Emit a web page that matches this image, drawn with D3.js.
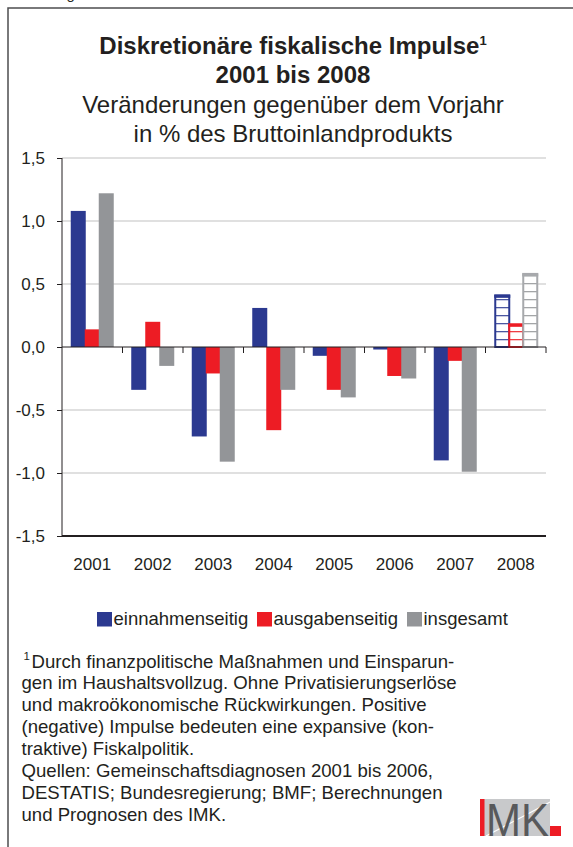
<!DOCTYPE html>
<html>
<head>
<meta charset="utf-8">
<script src="https://cdn.jsdelivr.net/npm/d3@7"></script>
<style>
  html, body { margin: 0; padding: 0; background: #fff; }
  svg { display: block; font-family: "Liberation Sans", Arial, sans-serif; }
</style>
</head>
<body>
<svg id="chart" width="573" height="847"></svg>
<script>
// values
const years = ["2001", "2002", "2003", "2004", "2005", "2006", "2007", "2008"];
const einnahmenseitig = [1.08, -0.34, -0.71, 0.31, -0.07, -0.02, -0.90, 0.41];
const ausgabenseitig = [0.14, 0.20, -0.21, -0.66, -0.34, -0.23, -0.11, 0.18];
const insgesamt = [1.22, -0.15, -0.91, -0.34, -0.40, -0.25, -0.99, 0.58];
const forecastYears = ["2008"];
const seriesNames = ["einnahmenseitig", "ausgabenseitig", "insgesamt"];
const seriesColors = ["#2b3990", "#ed1c24", "#939598"];
const yTicks = [-1.5, -1.0, -0.5, 0.0, 0.5, 1.0, 1.5];

const titleLines = ["Diskretionäre fiskalische Impulse", "2001 bis 2008"];
const subtitleLines = ["Veränderungen gegenüber dem Vorjahr", "in % des Bruttoinlandprodukts"];
const footnoteLines = [
  "Durch finanzpolitische Maßnahmen und Einsparun-",
  "gen im Haushaltsvollzug. Ohne Privatisierungserlöse",
  "und makroökonomische Rückwirkungen. Positive",
  "(negative) Impulse bedeuten eine expansive (kon-",
  "traktive) Fiskalpolitik.",
  "Quellen: Gemeinschaftsdiagnosen 2001 bis 2006,",
  "DESTATIS; Bundesregierung; BMF; Berechnungen",
  "und Prognosen des IMK."
];

const textColor = "#231f20";
const svg = d3.select("#chart");

const de = d3.formatLocale({decimal: ",", thousands: ".", grouping: [3], currency: ["", " €"], minus: "-"});
const fmt = de.format(".1f");

// frame (right and bottom edges run off the picture)
svg.append("rect")
  .attr("x", 8).attr("y", 8).attr("width", 600).attr("height", 900)
  .attr("fill", "none").attr("stroke", "#4d4d4f").attr("stroke-width", 1.5);

svg.append("text").attr("x", 8).attr("y", -1)
  .attr("font-size", 15).attr("fill", textColor).text("Abbildung");

// titles
const titleX = 293;
svg.append("g").selectAll("text").data(titleLines).enter().append("text")
  .attr("x", titleX).attr("y", (d, i) => 53.5 + i * 29)
  .attr("text-anchor", "middle").attr("font-size", 24).attr("font-weight", "bold")
  .attr("fill", textColor)
  .each(function (d, i) {
    d3.select(this).append("tspan").text(d);
    if (i === 0) d3.select(this).append("tspan").attr("font-size", 13).attr("dy", -9).text("1");
  });

svg.append("g").selectAll("text").data(subtitleLines).enter().append("text")
  .attr("x", titleX).attr("y", (d, i) => 112.5 + i * 29.2)
  .attr("text-anchor", "middle").attr("font-size", 24)
  .attr("fill", textColor).text(d => d);

// scales
const x = d3.scaleBand().domain(years).range([62, 546]).padding(0);
const y = d3.scaleLinear().domain([-1.5, 1.5]).range([536, 158]);
const offset = d3.scalePoint().domain(seriesNames).range([-14, 14]);
const barW = 15;

const plot = svg.append("g");

// gridlines
plot.append("g").selectAll("line").data(yTicks.filter(v => v !== 0 && v !== -1.5)).enter().append("line")
  .attr("x1", 62).attr("x2", 546)
  .attr("y1", d => y(d)).attr("y2", d => y(d))
  .attr("stroke", "#d6d6d6").attr("stroke-width", 1.5);

// patterns for forecast bars
const defs = svg.append("defs");
seriesColors.forEach((c, i) => {
  const p = defs.append("pattern")
    .attr("id", "hatch" + i).attr("patternUnits", "userSpaceOnUse")
    .attr("x", 0).attr("y", y(0)).attr("width", 10).attr("height", 8);
  p.append("rect").attr("width", 10).attr("height", 8).attr("fill", "#fff");
  p.append("line").attr("x1", 0).attr("x2", 10).attr("y1", 0.5).attr("y2", 0.5)
    .attr("stroke", c).attr("stroke-width", 1.6).attr("opacity", 0.85);
});

const seriesValues = [einnahmenseitig, ausgabenseitig, insgesamt];
const bars = [];
seriesNames.forEach((s, si) => {
  years.forEach((yr, i) => {
    bars.push({series: s, si: si, year: yr, value: seriesValues[si][i], forecast: forecastYears.includes(yr)});
  });
});

// solid bars
plot.append("g").selectAll("rect").data(bars.filter(d => !d.forecast)).enter().append("rect")
  .attr("x", d => x(d.year) + x.bandwidth() / 2 + offset(d.series) - barW / 2)
  .attr("width", barW)
  .attr("y", d => y(Math.max(0, d.value)))
  .attr("height", d => Math.abs(y(d.value) - y(0)))
  .attr("fill", d => seriesColors[d.si]);

// forecast bars (outlined ladder)
const fc = plot.append("g").selectAll("g").data(bars.filter(d => d.forecast)).enter().append("g");
fc.append("rect")
  .attr("x", d => x(d.year) + x.bandwidth() / 2 + offset(d.series) - barW / 2 + 1)
  .attr("width", barW - 1)
  .attr("y", d => y(Math.max(0, d.value)))
  .attr("height", d => Math.abs(y(d.value) - y(0)))
  .attr("fill", d => "url(#hatch" + d.si + ")")
  .attr("stroke", d => d.si === 2 ? "#a7a9ac" : seriesColors[d.si])
  .attr("stroke-width", 2);
fc.append("line")
  .attr("x1", d => x(d.year) + x.bandwidth() / 2 + offset(d.series) - barW / 2)
  .attr("x2", d => x(d.year) + x.bandwidth() / 2 + offset(d.series) + barW / 2 + 1)
  .attr("y1", d => y(d.value) + 1).attr("y2", d => y(d.value) + 1)
  .attr("stroke", d => d.si === 2 ? "#a7a9ac" : seriesColors[d.si])
  .attr("stroke-width", 3);

// zero line with ticks pointing down
plot.append("line")
  .attr("x1", 62).attr("x2", 546).attr("y1", y(0)).attr("y2", y(0))
  .attr("stroke", textColor).attr("stroke-width", 1);
plot.append("g").selectAll("line").data(years.slice(1).concat(["end"])).enter().append("line")
  .attr("x1", d => d === "end" ? 546 : x(d)).attr("x2", d => d === "end" ? 546 : x(d))
  .attr("y1", y(0)).attr("y2", y(0) + 6)
  .attr("stroke", textColor).attr("stroke-width", 1);

// y axis
const yAxis = plot.append("g").attr("transform", "translate(62,0)")
  .call(d3.axisLeft(y).tickValues(yTicks).tickFormat(fmt).tickSize(5).tickPadding(12));
yAxis.select(".domain").attr("stroke", textColor).attr("d", `M0,${y(1.5)}V${y(-1.5)}`);
yAxis.selectAll(".tick line").attr("stroke", textColor);
yAxis.selectAll(".tick text").attr("font-size", 17).attr("fill", textColor)
  .attr("font-family", "Liberation Sans, Arial, sans-serif");

// bottom axis line
plot.append("line")
  .attr("x1", 62).attr("x2", 546).attr("y1", y(-1.5)).attr("y2", y(-1.5))
  .attr("stroke", textColor).attr("stroke-width", 1.8);

// x labels
plot.append("g").selectAll("text").data(years).enter().append("text")
  .attr("x", d => x(d) + x.bandwidth() / 2).attr("y", 570)
  .attr("text-anchor", "middle").attr("font-size", 17).attr("fill", textColor)
  .text(d => d);

// legend
const legendX = [97, 257, 407];
const lg = svg.append("g").selectAll("g").data(seriesNames).enter().append("g")
  .attr("transform", (d, i) => `translate(${legendX[i]},612)`);
lg.append("rect").attr("width", 15).attr("height", 14.5).attr("fill", (d, i) => seriesColors[i]);
lg.append("text").attr("x", 16.5).attr("y", 13).attr("font-size", 18.5).attr("fill", textColor).text(d => d);

// footnote
svg.append("text").attr("x", 23.5).attr("y", 660).attr("font-size", 11.5).attr("fill", textColor).text("1");
svg.append("g").selectAll("text").data(footnoteLines).enter().append("text")
  .attr("x", (d, i) => i === 0 ? 31.5 : 21.5)
  .attr("y", (d, i) => 667.5 + i * 21.9)
  .attr("font-size", 18.6).attr("fill", textColor)
  .text(d => d);

// IMK logo
const logo = svg.append("g");
logo.append("rect").attr("x", 484).attr("y", 799).attr("width", 66).attr("height", 37).attr("fill", "#c8c9cb");
logo.append("line").attr("x1", 486).attr("y1", 836).attr("x2", 552).attr("y2", 801)
  .attr("stroke", "#fff").attr("stroke-width", 1.2);
logo.append("rect").attr("x", 480).attr("y", 799).attr("width", 4.5).attr("height", 37).attr("fill", "#ed1c24");
logo.append("text").attr("x", 486).attr("y", 835.5).attr("font-size", 46)
  .attr("textLength", 63).attr("lengthAdjust", "spacingAndGlyphs")
  .attr("fill", "#58595b").text("MK");
logo.append("rect").attr("x", 550).attr("y", 826).attr("width", 11).attr("height", 10).attr("fill", "#ed1c24");
</script>
</body>
</html>
